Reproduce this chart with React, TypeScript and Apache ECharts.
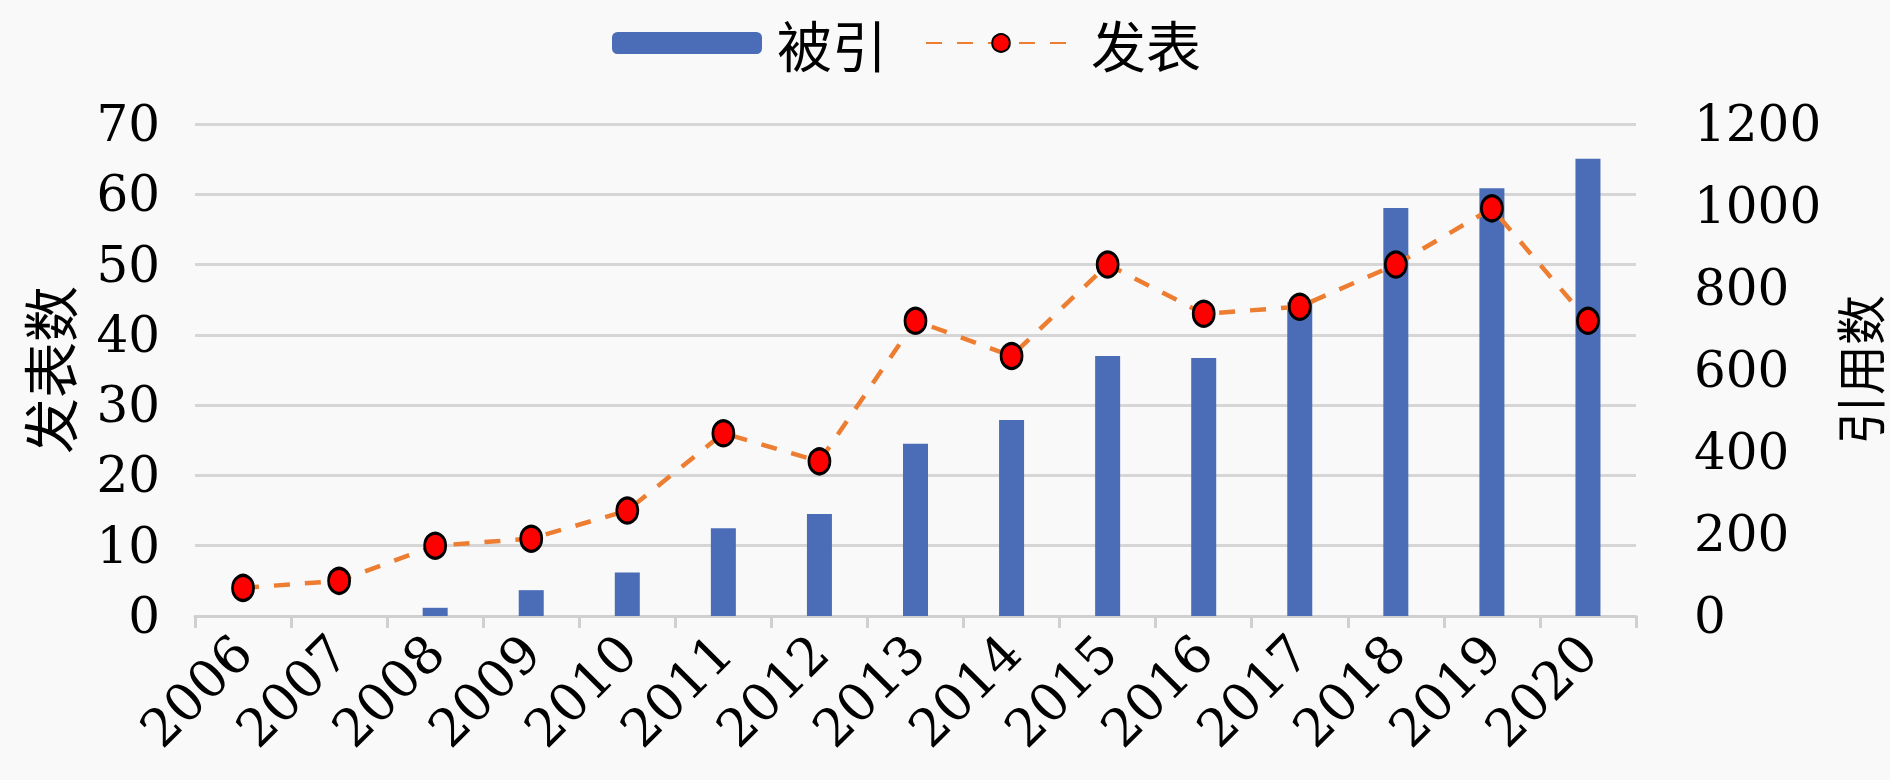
import React, { useEffect, useRef } from "react";
import * as echarts from "echarts";

const years = ["2006","2007","2008","2009","2010","2011","2012","2013","2014","2015","2016","2017","2018","2019","2020"];
const citations = [0, 0, 20, 63, 106, 214, 249, 420, 478, 634, 629, 765, 995, 1043, 1115];
const publications = [4, 5, 10, 11, 15, 26, 22, 42, 37, 50, 43, 44, 50, 58, 42];
const leftTicks = { min: 0, max: 70, interval: 10 };
const rightTicks = { min: 0, max: 1200, interval: 200 };

const NUM_FONT = "DejaVu Serif";
const CJK_FONT = "Noto Sans CJK SC";

export default function App() {
  const ref = useRef<HTMLDivElement>(null);
  useEffect(() => {
    if (!ref.current) return;
    const chart = echarts.init(ref.current, undefined, { renderer: "svg" });
    chart.setOption({
      animation: false,
      backgroundColor: "#f9f9f9",
      legend: {
        left: 607,
        top: 10,
        itemWidth: 150,
        itemHeight: 22,
        itemGap: 38,
        textStyle: {
          fontFamily: CJK_FONT,
          fontSize: 55,
          lineHeight: 56,
          color: "#000",
          padding: [0, 0, 0, 10],
        },
        data: ["被引", "发表"],
      },
      grid: { left: 195, right: 254, top: 124, bottom: 164, outerBoundsMode: "none", containLabel: false },
      xAxis: {
        type: "category",
        data: years,
        axisLine: { lineStyle: { color: "#d0d0d0", width: 3 } },
        axisTick: { show: true, length: 12, lineStyle: { color: "#d0d0d0", width: 3 } },
        axisLabel: {
          interval: 0,
          rotate: 45,
          margin: 28,
          fontFamily: NUM_FONT,
          fontSize: 52,
          color: "#000",
        },
      },
      yAxis: [
        {
          type: "value",
          ...leftTicks,
          name: "发表数",
          nameLocation: "middle",
          nameRotate: 90,
          nameGap: 120,
          nameTextStyle: { fontFamily: CJK_FONT, fontSize: 56, color: "#000" },
          axisLine: { show: false },
          axisTick: { show: false },
          axisLabel: { margin: 35, fontFamily: NUM_FONT, fontSize: 50, color: "#000" },
          splitLine: { lineStyle: { color: "#d6d6d6", width: 3 } },
        },
        {
          type: "value",
          ...rightTicks,
          position: "right",
          name: "引用数",
          nameLocation: "middle",
          nameRotate: 90,
          nameGap: 182,
          nameTextStyle: { fontFamily: CJK_FONT, fontSize: 50, lineHeight: 52, color: "#000" },
          axisLine: { show: false },
          axisTick: { show: false },
          axisLabel: {
            margin: 58,
            fontFamily: NUM_FONT,
            fontSize: 50,
            color: "#000",
            formatter: (v: number) => String(v),
          },
          splitLine: { show: false },
        },
      ],
      series: [
        {
          name: "被引",
          type: "bar",
          yAxisIndex: 1,
          data: citations,
          barWidth: 25,
          itemStyle: { color: "#4b6cb7" },
          z: 2,
        },
        {
          name: "发表",
          type: "line",
          yAxisIndex: 0,
          data: publications,
          symbol: "circle",
          symbolSize: [21, 25],
          lineStyle: { color: "#ed7d31", width: 4.5, type: [16, 15] },
          itemStyle: { color: "#ff0000", borderColor: "#000", borderWidth: 3 },
          z: 3,
        },
      ],
    });
    return () => chart.dispose();
  }, []);
  return (
    <div
      ref={ref}
      style={{ position: "absolute", left: 0, top: 0, width: 1890, height: 780 }}
    />
  );
}
